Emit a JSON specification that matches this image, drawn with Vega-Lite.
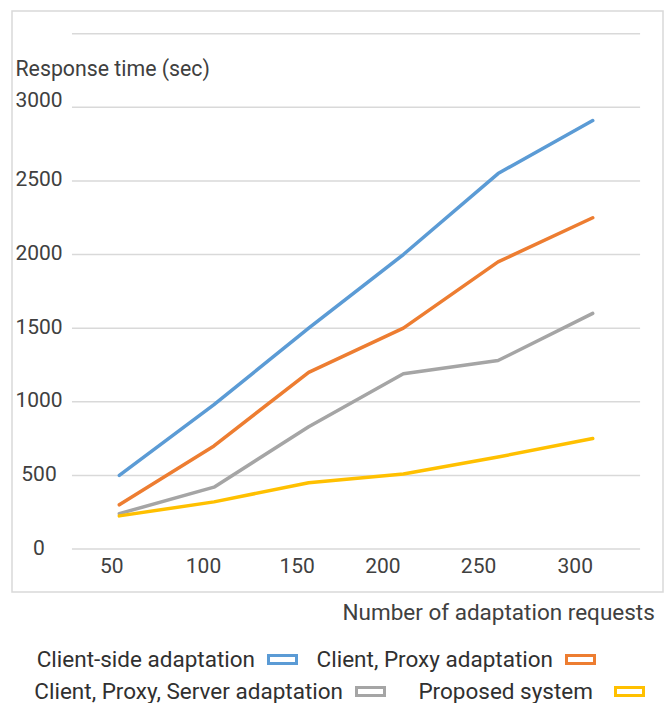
{
  "$schema": "https://vega.github.io/schema/vega-lite/v6.json",
  "width": 651,
  "height": 581,
  "autosize": {"type": "none"},
  "padding": {"left": 12, "top": 11, "right": 4, "bottom": 111},
  "background": "white",
  "config": {
    "view": {"stroke": "#d9d9d9", "strokeWidth": 1.5},
    "font": "Roboto",
    "legend": {
      "symbolType": "M-1,-0.29H1V0.29H-1Z", "symbolSize": 784, "symbolStrokeWidth": 3,
      "symbolFillColor": "white", "symbolOpacity": 1,
      "labelFontSize": 22.5, "labelColor": "#303030", "labelAlign": "right", "labelOffset": -43,
      "labelLimit": 400
    }
  },
  "datasets": {
    "grid": [
      {"time": 0}, {"time": 500}, {"time": 1000}, {"time": 1500},
      {"time": 2000}, {"time": 2500}, {"time": 3000}, {"time": 3500}
    ],
    "series": [
      {"requests": 50, "time": 500, "series": "Client-side adaptation"},
      {"requests": 100, "time": 980, "series": "Client-side adaptation"},
      {"requests": 150, "time": 1500, "series": "Client-side adaptation"},
      {"requests": 200, "time": 2000, "series": "Client-side adaptation"},
      {"requests": 250, "time": 2550, "series": "Client-side adaptation"},
      {"requests": 300, "time": 2910, "series": "Client-side adaptation"},
      {"requests": 50, "time": 300, "series": "Client, Proxy adaptation"},
      {"requests": 100, "time": 700, "series": "Client, Proxy adaptation"},
      {"requests": 150, "time": 1200, "series": "Client, Proxy adaptation"},
      {"requests": 200, "time": 1500, "series": "Client, Proxy adaptation"},
      {"requests": 250, "time": 1950, "series": "Client, Proxy adaptation"},
      {"requests": 300, "time": 2250, "series": "Client, Proxy adaptation"},
      {"requests": 50, "time": 240, "series": "Client, Proxy, Server adaptation"},
      {"requests": 100, "time": 420, "series": "Client, Proxy, Server adaptation"},
      {"requests": 150, "time": 830, "series": "Client, Proxy, Server adaptation"},
      {"requests": 200, "time": 1190, "series": "Client, Proxy, Server adaptation"},
      {"requests": 250, "time": 1280, "series": "Client, Proxy, Server adaptation"},
      {"requests": 300, "time": 1600, "series": "Client, Proxy, Server adaptation"},
      {"requests": 50, "time": 225, "series": "Proposed system"},
      {"requests": 100, "time": 320, "series": "Proposed system"},
      {"requests": 150, "time": 450, "series": "Proposed system"},
      {"requests": 200, "time": 510, "series": "Proposed system"},
      {"requests": 250, "time": 625, "series": "Proposed system"},
      {"requests": 300, "time": 750, "series": "Proposed system"}
    ]
  },
  "layer": [
    {
      "data": {"name": "grid"},
      "mark": {"type": "rule", "stroke": "#d9d9d9", "strokeWidth": 1.5},
      "encoding": {
        "x": {
          "datum": 25, "type": "quantitative",
          "scale": {"domain": [-6.66, 337.1], "nice": false, "zero": false},
          "axis": {
            "values": [50, 100, 150, 200, 250, 300],
            "offset": -43, "domain": false, "ticks": false, "tickSize": 0, "grid": false,
            "labelPadding": 17, "labelBaseline": "middle", "labelFontSize": 21, "labelColor": "#404040",
            "labelFlush": false, "labelOverlap": false,
            "labelOffset": {
              "condition": [
                {"test": "datum.value == 50", "value": -8},
                {"test": "datum.value == 100", "value": -11},
                {"test": "datum.value == 150", "value": -12},
                {"test": "datum.value == 200", "value": -21},
                {"test": "datum.value == 250", "value": -20}
              ],
              "value": -18
            },
            "title": "Number of adaptation requests",
            "titleAlign": "left", "titleBaseline": "middle", "titleX": 330, "titleY": 63,
            "titleFontSize": 22.5, "titleFontWeight": "normal", "titleColor": "#404040"
          }
        },
        "x2": {"datum": 325},
        "y": {
          "field": "time", "type": "quantitative",
          "scale": {"domain": [-292, 3654], "nice": false, "zero": false},
          "axis": {
            "values": [0, 500, 1000, 1500, 2000, 2500, 3000],
            "format": "d",
            "offset": -26.5, "domain": false, "ticks": false, "tickSize": 0, "grid": false,
            "labelAlign": "center", "labelPadding": 0, "labelFontSize": 21, "labelColor": "#404040",
            "labelOverlap": false,
            "labelOffset": {"condition": {"test": "datum.value == 3000", "value": -7}, "value": -1},
            "title": "Response time (sec)",
            "titleAngle": 0, "titleAlign": "left", "titleBaseline": "alphabetic",
            "titleX": -23.5, "titleY": 64,
            "titleFontSize": 21.3, "titleFontWeight": "normal", "titleColor": "#404040"
          }
        }
      }
    },
    {
      "data": {"name": "series"},
      "encoding": {
        "x": {"field": "requests", "type": "quantitative", "title": "Number of adaptation requests"},
        "y": {"field": "time", "type": "quantitative", "title": "Response time (sec)"}
      },
      "layer": [
        {
          "transform": [{"filter": "datum.series == 'Client-side adaptation'"}],
          "mark": {"type": "line", "strokeWidth": 3.5, "strokeCap": "round", "strokeJoin": "round"},
          "encoding": {
            "color": {
              "field": "series", "type": "nominal",
              "scale": {"domain": ["Client-side adaptation"], "range": ["#5b9bd5"]},
              "legend": {"orient": "none", "legendX": 255, "legendY": 633, "title": null}
            }
          }
        },
        {
          "transform": [{"filter": "datum.series == 'Client, Proxy adaptation'"}],
          "mark": {"type": "line", "strokeWidth": 3.5, "strokeCap": "round", "strokeJoin": "round"},
          "encoding": {
            "color": {
              "field": "series", "type": "nominal",
              "scale": {"domain": ["Client, Proxy adaptation"], "range": ["#ed7d31"]},
              "legend": {"orient": "none", "legendX": 553, "legendY": 633, "title": null}
            }
          }
        },
        {
          "transform": [{"filter": "datum.series == 'Client, Proxy, Server adaptation'"}],
          "mark": {"type": "line", "strokeWidth": 3.5, "strokeCap": "round", "strokeJoin": "round"},
          "encoding": {
            "color": {
              "field": "series", "type": "nominal",
              "scale": {"domain": ["Client, Proxy, Server adaptation"], "range": ["#a5a5a5"]},
              "legend": {"orient": "none", "legendX": 343, "legendY": 665, "title": null}
            }
          }
        },
        {
          "transform": [{"filter": "datum.series == 'Proposed system'"}],
          "mark": {"type": "line", "strokeWidth": 3.5, "strokeCap": "round", "strokeJoin": "round"},
          "encoding": {
            "color": {
              "field": "series", "type": "nominal",
              "scale": {"domain": ["Proposed system"], "range": ["#ffc000"]},
              "legend": {"orient": "none", "legendX": 602, "legendY": 665, "title": null, "labelOffset": -52}
            }
          }
        }
      ],
      "resolve": {"scale": {"color": "independent"}, "legend": {"color": "independent"}}
    }
  ],
  "resolve": {"scale": {"color": "independent"}, "legend": {"color": "independent"}}
}
